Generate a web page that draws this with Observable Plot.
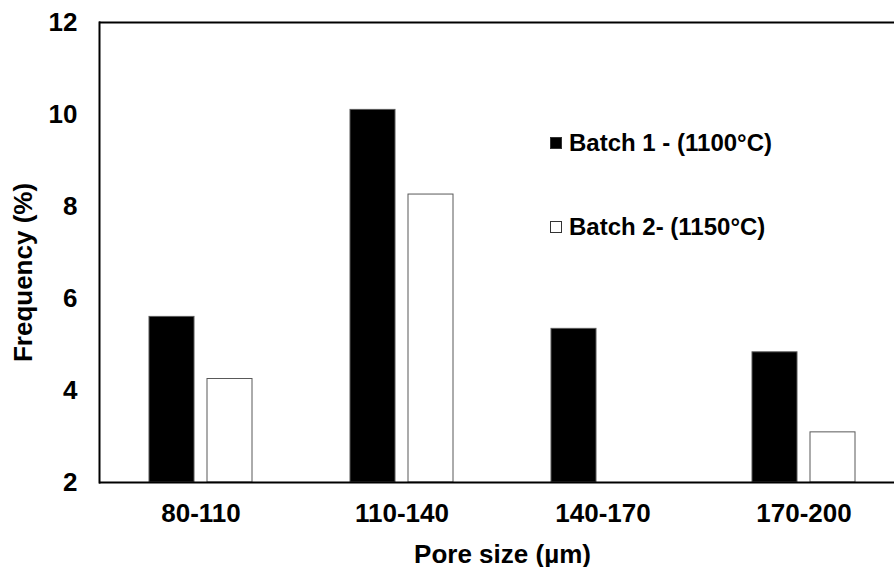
<!DOCTYPE html>
<html>
<head>
<meta charset="utf-8">
<script src="https://cdn.jsdelivr.net/npm/d3@7"></script>
<script src="https://cdn.jsdelivr.net/npm/@observablehq/plot@0.6"></script>
<style>
  html, body { margin: 0; padding: 0; background: white; overflow: hidden; }
  #wrap { position: relative; width: 894px; height: 567px; overflow: hidden; font-family: "Liberation Sans", Arial, sans-serif; }
  #legend { position: absolute; left: 550px; top: 128px; font-weight: bold; font-size: 24px; color: black; }
  .item { display: flex; align-items: center; height: 30px; margin-bottom: 54px; }
  .sw { width: 12px; height: 12px; box-sizing: border-box; margin-right: 7px; border: 1px solid #333; }
</style>
</head>
<body>
<div id="wrap"><div id="legend"></div></div>
<script>
const categories = ["80-110", "110-140", "140-170", "170-200"];
const series = ["Batch 1 - (1100°C)", "Batch 2- (1150°C)"];
const batch1 = [5.6, 10.1, 5.34, 4.83];
const batch2 = [4.25, 8.26, null, 3.09];
const yTicks = [2, 4, 6, 8, 10, 12];
const seriesFill = ["black", "white"];
const xTitle = "Pore size (µm)";
const yTitle = "Frequency (%)";

const rows1 = categories.map((c, i) => ({cat: c, series: series[0], value: batch1[i]})).filter(d => d.value != null);
const rows2 = categories.map((c, i) => ({cat: c, series: series[1], value: batch2[i]})).filter(d => d.value != null);

const chart = Plot.plot({
  width: 894,
  height: 567,
  marginTop: 22,
  marginBottom: 85,
  marginLeft: 99,
  marginRight: -11,
  style: {fontFamily: "'Liberation Sans', Arial, sans-serif", fontSize: "26px", fontWeight: "bold", color: "black", background: "white"},
  x: {domain: categories, paddingInner: 0.49, paddingOuter: 0.245, tickSize: 0, tickPadding: 21, label: xTitle, labelAnchor: "center", labelOffset: 80, labelArrow: "none"},
  y: {domain: [yTicks[0], yTicks[yTicks.length - 1]], ticks: yTicks, tickSize: 0, tickPadding: 22, label: null},
  color: {domain: series, range: seriesFill},
  marks: [
    Plot.barY(rows1, {x: "cat", y1: yTicks[0], y2: "value", fill: "series", stroke: "#595959", strokeWidth: 1, insetRight: 58}),
    Plot.barY(rows2, {x: "cat", y1: yTicks[0], y2: "value", fill: "series", stroke: "#595959", strokeWidth: 1, insetLeft: 58}),
    Plot.ruleY([yTicks[0], yTicks[yTicks.length - 1]], {strokeWidth: 2}),
    Plot.frame({anchor: "left", strokeWidth: 2}),
    Plot.text([yTitle], {frameAnchor: "left", textAnchor: "middle", lineAnchor: "middle", rotate: -90, dx: -76, dy: 20, fontSize: 26, fontWeight: "bold", fill: "black"})
  ]
});
document.getElementById("wrap").prepend(chart);

const legend = document.getElementById("legend");
series.forEach((s, i) => {
  const item = document.createElement("div");
  item.className = "item";
  const sw = document.createElement("span");
  sw.className = "sw";
  sw.style.background = seriesFill[i];
  const t = document.createElement("span");
  t.textContent = s;
  item.append(sw, t);
  legend.append(item);
});
</script>
</body>
</html>
